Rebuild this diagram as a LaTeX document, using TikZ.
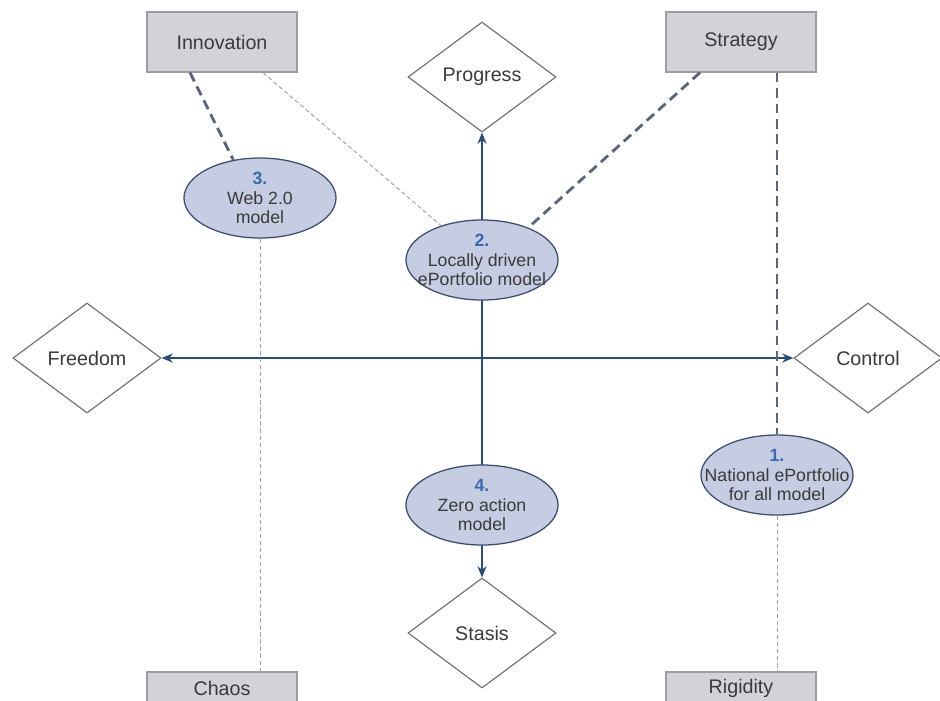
\documentclass[tikz,border=0pt]{standalone}
\usepackage{fontspec}
\setmainfont{Liberation Sans}
\usepackage{xcolor}
\usetikzlibrary{shapes.geometric, arrows.meta}

\definecolor{boxfill}{HTML}{D2D2D9}
\definecolor{boxline}{HTML}{9C9CA4}
\definecolor{modelfill}{HTML}{C6CCE2}
\definecolor{modelline}{HTML}{3C4D6E}
\definecolor{axiscol}{HTML}{2C4C74}
\definecolor{numcol}{HTML}{3A6AB0}
\definecolor{dashcol}{HTML}{5B6478}
\definecolor{dotcol}{HTML}{A0A0A8}
\definecolor{txtcol}{HTML}{3A3A3A}
\definecolor{poleline}{HTML}{6E6E72}

\newcommand{\modelno}[1]{{\bfseries\color{numcol}#1}}

\begin{document}
\begin{tikzpicture}[
    x=0.025cm, y=-0.025cm,
    corner/.style={rectangle, draw=boxline, fill=boxfill, line width=0.8pt, minimum width=3.75cm, minimum height=1.5cm, text=txtcol, font=\fontsize{14}{16}\selectfont},
    pole/.style={diamond, draw=poleline, fill=white, line width=0.8pt, minimum width=3.7cm, minimum height=2.75cm, inner sep=0pt, text=txtcol, font=\fontsize{14}{16}\selectfont},
    model/.style={ellipse, draw=modelline, fill=modelfill, line width=0.9pt, minimum width=3.8cm, minimum height=2cm, inner sep=0pt},
    modeltext/.style={align=center, text=txtcol, font=\fontsize{12.6}{14}\selectfont},
    axis/.style={{Stealth[length=8pt,width=6.5pt]}-{Stealth[length=8pt,width=6.5pt]}, line width=1.6pt, draw=axiscol},
    strong/.style={line width=2pt, draw=dashcol, dash pattern=on 7pt off 4pt},
    faint/.style={line width=0.7pt, draw=dotcol, dash pattern=on 3pt off 2pt}
]
\useasboundingbox (0,0) rectangle (940,700);

% corners
\node[corner] (innov) at (222,42) {Innovation};
\node[corner] (strat) at (741,42) {Strategy};
\node[corner, minimum height=0.8cm] (chaos) at (222,688) {Chaos};
\node[corner, minimum height=0.8cm] (rigid) at (741,688) {Rigidity};

% poles of the two axes
\node[pole] (progress) at (482,77) {Progress};
\node[pole] (stasis) at (482,633) {Stasis};
\node[pole] (freedom) at (87,358) {Freedom};
\node[pole] (control) at (868,358) {Control};

\draw[axis] (freedom) -- (control);
\draw[axis] (stasis) -- (progress);

% the four models
\node[model, label={[modeltext]center:{\modelno{3.}\\Web 2.0\\model}}] (web) at (260,198) {};
\node[model, label={[modeltext]center:{\modelno{2.}\\Locally driven\\ePortfolio model}}] (local) at (482,260) {};
\node[model, label={[modeltext]center:{\modelno{1.}\\National ePortfolio\\for all model}}] (national) at (777,475) {};
\node[model, label={[modeltext]center:{\modelno{4.}\\Zero action\\model}}] (zero) at (482,505) {};

\draw[strong] ([xshift=-0.8cm]innov.south) -- (web.125);
\draw[faint] ([xshift=1.025cm]innov.south) -- (local.140);
\draw[strong] ([xshift=-1.025cm]strat.south) -- (local.35);
\draw[strong] (strat.south -| national.north) -- (national.north);
\draw[faint] (web.south) -- (web.south |- chaos.north);
\draw[faint] (national.south) -- (national.south |- rigid.north);

\end{tikzpicture}
\end{document}
